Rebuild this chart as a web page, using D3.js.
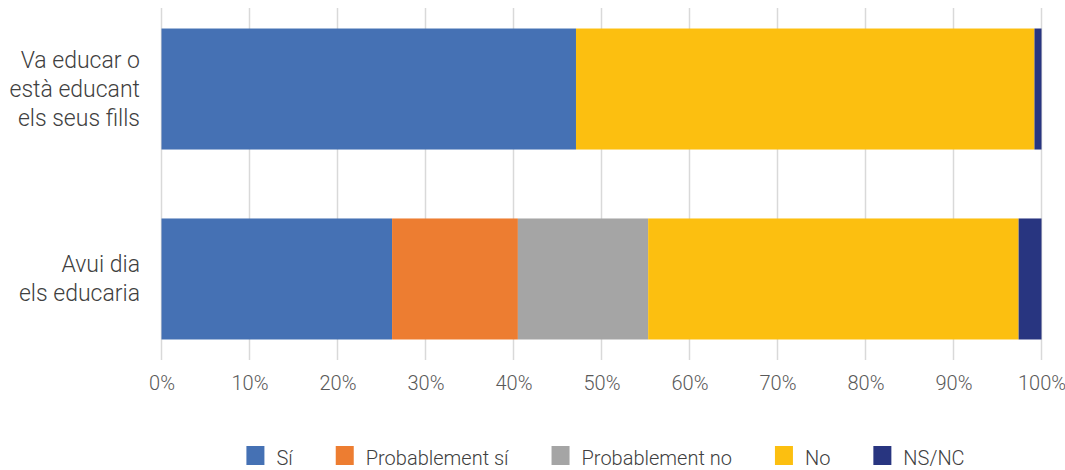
<!DOCTYPE html>
<html><head><meta charset="utf-8">
<script src="https://cdn.jsdelivr.net/npm/d3@7"></script>
<style>
html,body{margin:0;padding:0;background:#fff;}
svg{display:block;font-family:"Roboto","Liberation Sans",sans-serif;font-weight:300;}
</style></head>
<body><svg id="c" width="1065" height="470"></svg>
<script>
const categories = [["Va educar o","està educant","els seus fills"],["Avui dia","els educaria"]];
const seriesNames = ["Sí","Probablement sí","Probablement no","No","NS/NC"];
const colors = ["#4571B4","#ED7D31","#A5A5A5","#FCBF10","#283580"];
const siValues   = [47.1, 26.2];
const probSi     = [0, 14.3];
const probNo     = [0, 14.8];
const noValues   = [52.1, 42.1];
const nsncValues = [0.8, 2.6];
const tickValues = [0,10,20,30,40,50,60,70,80,90,100];

const seriesVals = [siValues, probSi, probNo, noValues, nsncValues];
const rows = categories.map((c,i)=>{const o={key:i}; seriesNames.forEach((s,j)=>o[s]=seriesVals[j][i]); return o;});
const stack = d3.stack().keys(seriesNames)(rows);

const svg = d3.select("#c");
const x = d3.scaleLinear().domain([0,100]).range([161.5,1041.5]);
const y = d3.scaleBand().domain(categories.map((c,i)=>i)).range([8,360]).paddingInner(0.363).paddingOuter(0.108);

// gridlines
const xAxis = d3.axisBottom(x).tickValues(tickValues).tickFormat(d=>d+"%").tickSize(0).tickPadding(0);
svg.append("g").selectAll("line").data(tickValues).join("line")
  .attr("x1",d=>x(d)).attr("x2",d=>x(d)).attr("y1",8).attr("y2",360)
  .attr("stroke","#D9D9D9").attr("stroke-width",1.5);

// bars
svg.append("g").selectAll("g").data(stack).join("g").attr("fill",(d,i)=>colors[i])
  .selectAll("rect").data(d=>d).join("rect")
  .attr("x",d=>x(d[0])).attr("width",d=>x(d[1])-x(d[0]))
  .attr("y",(d,i)=>y(i)).attr("height",y.bandwidth());

// x axis labels
const ax = svg.append("g").attr("transform","translate(0,390)").call(xAxis);
ax.select(".domain").remove();
ax.selectAll("text").attr("font-size",20).attr("fill","#595959").attr("font-family","Roboto, sans-serif").attr("font-weight",300).attr("dy",0);

// category labels
const lh = 29;
categories.forEach((lines,i)=>{
  const cy = y(i)+y.bandwidth()/2;
  const t = svg.append("text").attr("text-anchor","end").attr("font-size",23).attr("fill","#404040");
  const n = lines.length;
  lines.forEach((l,k)=>{
    t.append("tspan").attr("x",140).attr("y",cy + (k-(n-1)/2)*lh + 8).text(l);
  });
});

// legend
const lg = svg.append("g");
let cx = 0;
seriesNames.forEach((s,i)=>{
  const g = lg.append("g");
  g.append("rect").attr("x",0).attr("y",446).attr("width",18).attr("height",19).attr("fill",colors[i]);
  const t = g.append("text").attr("x",30).attr("y",465).attr("font-size",20).attr("fill","#404040").text(s);
  const w = t.node().getComputedTextLength();
  g.attr("transform",`translate(${cx},0)`);
  cx += 30 + w + 43;
});
const total = cx - 43;
lg.attr("transform",`translate(${243 + (725-total)/2},0)`);
</script></body></html>
